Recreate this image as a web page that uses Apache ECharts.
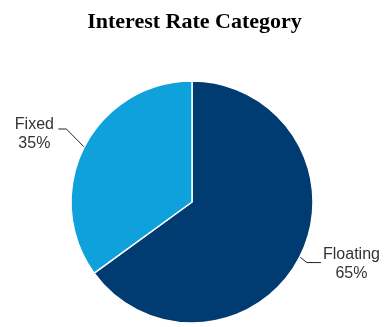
<!DOCTYPE html>
<html><head><meta charset="utf-8">
<script src="https://cdn.jsdelivr.net/npm/echarts@6/dist/echarts.min.js"></script>
<style>html,body{margin:0;padding:0;background:#fff}#c{width:389px;height:327px}</style>
</head><body><div id="c"></div>
<script>
const titleText = 'Interest Rate Category';
const categories = ['Floating', 'Fixed'];
const values = [65, 35];
const colors = ['#003B71', '#0FA1DC'];
const labelWidths = [62, 42];
const lineLen = [8, 20];
const lineLen2 = [14, 8];
const labelShift = [4, -4];
const elbowShift = [2, -9];

const chart = echarts.init(document.getElementById('c'), null, {renderer: 'canvas'});
chart.setOption({
  animation: false,
  title: {
    text: titleText, left: 'center', top: 6,
    textStyle: {fontFamily: 'Liberation Serif', fontWeight: 'bold', fontSize: 22, color: '#000'}
  },
  series: [{
    type: 'pie',
    center: [192, 202],
    radius: 121,
    startAngle: 90,
    clockwise: true,
    itemStyle: {borderColor: '#fff', borderWidth: 1.5},
    data: categories.map((c, i) => ({
      name: c, value: values[i],
      itemStyle: {color: colors[i]},
      labelLine: {length: lineLen[i], length2: lineLen2[i], lineStyle: {color: '#222', width: 1}},
      label: {
        overflow: 'none',
        formatter: '{n|{b}}\n{n|{d}%}',
        rich: {n: {width: labelWidths[i], align: 'center', fontSize: 16, lineHeight: 19,
          color: '#333', fontFamily: 'Liberation Sans'}}
      }
    })),
    label: {show: true, position: 'outside', distanceToLabelLine: 3, overflow: 'none'},
    labelLayout: function (p) {
      const i = p.dataIndex;
      const pts = p.labelLinePoints;
      const out = {dy: labelShift[i]};
      if (pts) {
        out.labelLinePoints = pts.map((q, k) => k === 0 ? [q[0], q[1]] : [q[0], q[1] + elbowShift[i]]);
      }
      return out;
    }
  }]
});
</script></body></html>
